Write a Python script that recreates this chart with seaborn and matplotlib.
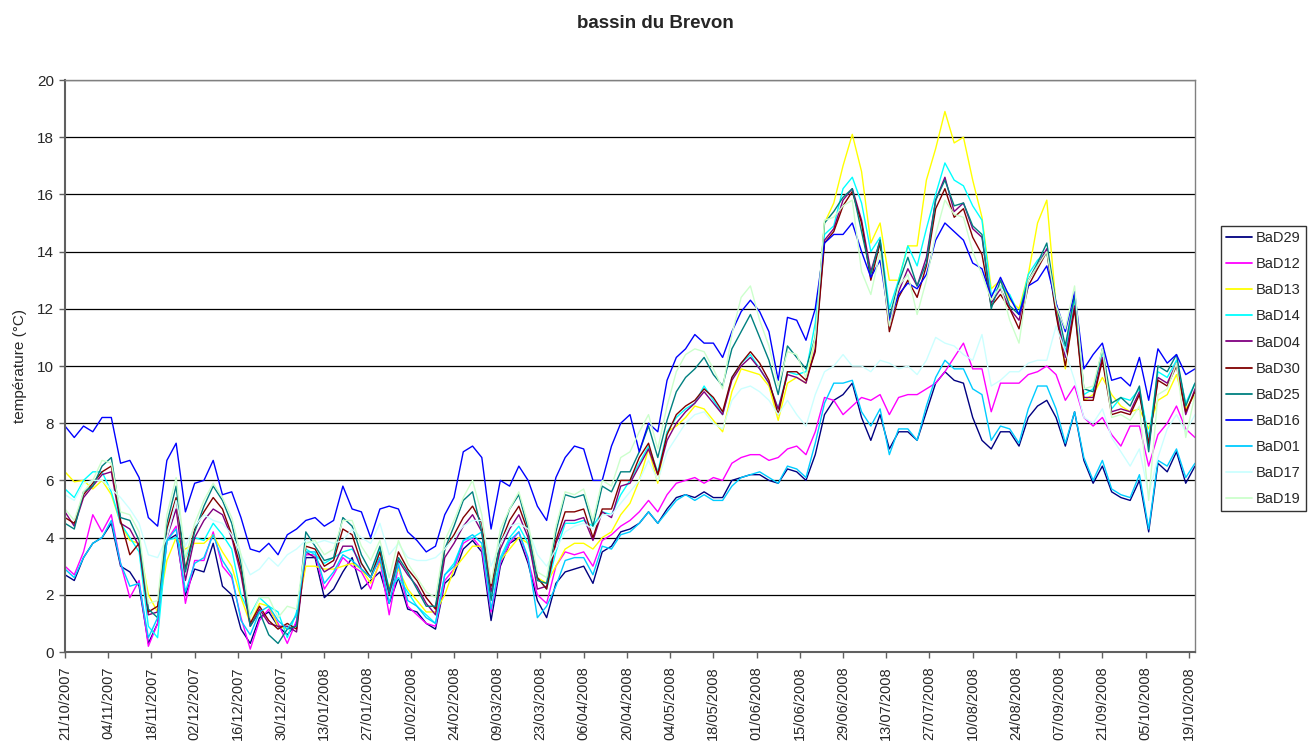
import matplotlib
matplotlib.use("Agg")
import matplotlib.pyplot as plt
import numpy as np
import pandas as pd
import seaborn as sns

# ---------------- data ----------------
start_date = "2007-10-21"
day_offsets = list(range(0, 367, 3))  # sampling days since 21/10/2007

stations = ["BaD29", "BaD12", "BaD13", "BaD14", "BaD04", "BaD30",
            "BaD25", "BaD16", "BaD01", "BaD17", "BaD19"]
colors = ["#000080", "#FF00FF", "#FFFF00", "#00FFFF", "#800080", "#800000",
          "#008080", "#0000FF", "#00CCFF", "#CCFFFF", "#CCFFCC"]

BaD29 = [2.7, 2.5, 3.3, 3.8, 4.0, 4.5, 3.0, 2.8, 2.3, 0.3, 1.0, 3.9, 4.1, 2.0, 2.9, 2.8,
         3.8, 2.3, 2.0, 0.8, 0.3, 1.2, 1.4, 0.9, 0.6, 1.0, 3.3, 3.3, 1.9, 2.2, 2.8,
         3.3, 2.2, 2.5, 2.8, 1.7, 2.6, 1.5, 1.4, 1.0, 0.8, 2.4, 2.7, 3.6, 3.9, 3.5,
         1.1, 3.0, 3.8, 4.0, 3.1, 1.8, 1.2, 2.4, 2.8, 2.9, 3.0, 2.4, 3.5, 3.7, 4.2,
         4.3, 4.5, 4.9, 4.5, 5.0, 5.4, 5.5, 5.4, 5.6, 5.4, 5.4, 6.0, 6.1, 6.2, 6.2, 6.0, 5.9, 6.4, 6.3, 6.0,
         6.9, 8.3, 8.8, 9.0, 9.4, 8.2, 7.4, 8.3, 7.1, 7.7, 7.7, 7.4, 8.4, 9.4, 9.8, 9.5, 9.4, 8.2, 7.4, 7.1,
         7.7, 7.7, 7.2, 8.2, 8.6, 8.8, 8.2, 7.2, 8.4,
         6.7, 5.9, 6.5, 5.6, 5.4, 5.3, 6.0, 4.2, 6.6, 6.3, 7.0, 5.9, 6.5]

BaD12 = [3.0, 2.7, 3.5, 4.8, 4.2, 4.8, 3.1, 1.9, 2.5, 0.2, 1.0, 3.9, 4.4, 1.7, 3.2, 3.2,
         4.2, 3.0, 2.6, 1.2, 0.1, 1.1, 1.5, 1.0, 0.3, 1.1, 3.4, 3.4, 2.2, 2.7, 3.3,
         3.0, 2.8, 2.2, 3.2, 1.3, 3.0, 1.6, 1.3, 1.0, 0.9, 2.5, 2.9, 3.8, 4.0, 3.6,
         1.4, 3.1, 3.8, 4.2, 3.2, 2.0, 1.7, 3.0, 3.5, 3.4, 3.5, 3.0, 3.9, 4.1, 4.4,
         4.6, 4.9, 5.3, 4.9, 5.5, 5.9, 6.0, 6.1, 5.9, 6.1, 6.0, 6.6, 6.8, 6.9, 6.9, 6.7, 6.8, 7.1, 7.2, 6.9,
         7.7, 8.9, 8.8, 8.3, 8.6, 8.9, 8.8, 9.0, 8.3, 8.9, 9.0, 9.0, 9.2, 9.4, 9.8, 10.3, 10.8, 9.9, 9.9, 8.4,
         9.4, 9.4, 9.4, 9.7, 9.8, 10.0, 9.7, 8.8, 9.3,
         8.2, 7.9, 8.2, 7.6, 7.2, 7.9, 7.9, 6.5, 7.6, 8.0, 8.6, 7.8, 7.5]

BaD13 = [6.3, 5.95, 6.0, 5.7, 6.0, 5.5, 4.5, 3.9, 3.8, 2.0, 1.4, 3.2, 4.0, 3.6, 3.8, 3.8,
         4.1, 3.5, 3.0, 1.9, 1.0, 1.7, 1.6, 0.9, 0.8, 1.3, 3.0, 3.0, 2.9, 2.9, 3.0,
         3.1, 2.9, 2.4, 3.1, 2.3, 2.9, 2.2, 1.8, 1.4, 1.4, 2.0, 2.9, 3.3, 3.7, 3.7,
         2.4, 3.2, 3.6, 4.0, 3.8, 2.6, 2.4, 3.0, 3.6, 3.8, 3.8, 3.6, 4.0, 4.2, 4.8,
         5.2, 6.0, 7.1, 5.9, 7.7, 7.9, 8.2, 8.6, 8.5, 8.1, 7.7, 9.1, 9.9, 9.8, 9.7, 9.3, 8.1, 9.4, 9.6, 9.4,
         11.0, 15.0, 15.7, 17.0, 18.1, 16.8, 14.3, 15.0, 13.0, 13.0, 14.2, 14.2, 16.5, 17.6, 18.9, 17.8, 18.0, 16.5, 15.2, 12.7,
         13.0, 12.3, 12.0, 13.2, 15.0, 15.8, 12.1, 9.9, 12.2,
         8.8, 9.0, 9.6, 9.0, 8.6, 8.4, 8.5, 7.8, 8.8, 9.0, 9.7, 8.5, 9.0]

BaD14 = [5.7, 5.4, 6.0, 6.3, 6.3, 5.6, 4.5, 4.0, 3.5, 0.9, 0.5, 3.9, 4.0, 3.3, 4.0, 3.9,
         4.5, 4.1, 3.6, 2.0, 1.3, 1.9, 1.6, 1.4, 0.5, 1.4, 3.6, 3.4, 3.1, 3.3, 3.5,
         3.6, 3.1, 2.6, 3.6, 2.2, 2.6, 2.1, 1.6, 1.3, 1.0, 2.7, 3.1, 3.9, 4.0, 4.2,
         1.9, 3.3, 4.0, 4.4, 3.8, 2.6, 2.2, 3.5, 4.5, 4.5, 4.6, 4.4, 4.9, 4.8, 5.5,
         6.0, 6.6, 7.2, 6.3, 7.7, 8.2, 8.5, 8.7, 9.3, 8.8, 8.3, 9.6, 10.1, 10.4, 9.9, 9.4, 8.5, 9.8, 9.7, 9.8,
         11.5, 14.6, 14.9, 16.2, 16.6, 15.7, 14.0, 14.5, 12.0, 13.0, 14.2, 13.5, 14.8, 16.0, 17.1, 16.5, 16.3, 15.6, 15.1, 12.5,
         12.8, 12.5, 11.8, 13.2, 13.7, 14.0, 11.8, 10.5, 12.4,
         9.0, 9.2, 10.5, 8.5, 8.9, 8.8, 9.2, 7.5, 9.8, 9.6, 10.2, 8.7, 9.4]

BaD04 = [4.9, 4.4, 5.4, 5.8, 6.2, 6.3, 4.5, 4.3, 3.7, 1.3, 1.4, 4.0, 5.0, 2.5, 4.0, 4.6,
         5.0, 4.8, 4.0, 2.7, 0.9, 1.5, 1.0, 0.9, 0.9, 0.7, 3.5, 3.3, 2.8, 3.0, 3.7,
         3.7, 2.9, 2.6, 3.3, 2.0, 3.2, 2.7, 2.3, 1.7, 1.3, 3.3, 3.8, 4.4, 4.8, 4.2,
         2.1, 3.6, 4.3, 4.8, 4.0, 2.2, 2.3, 3.8, 4.6, 4.6, 4.7, 3.9, 4.9, 4.7, 5.8,
         5.9, 6.5, 7.1, 6.2, 7.4, 8.0, 8.4, 8.7, 9.1, 8.7, 8.3, 9.5, 10.0, 10.3, 9.9, 9.4, 8.5, 9.7, 9.6, 9.4,
         10.6, 14.4, 14.8, 15.8, 16.2, 15.1, 13.3, 14.4, 11.4, 12.6, 13.4, 12.8, 13.8, 15.8, 16.6, 15.4, 15.7, 14.8, 14.5, 12.2,
         12.7, 12.0, 11.6, 13.0, 13.5, 14.1, 11.9, 10.3, 12.1,
         8.9, 8.9, 10.3, 8.4, 8.5, 8.4, 9.1, 7.2, 9.6, 9.4, 10.1, 8.3, 9.2]

BaD30 = [4.7, 4.5, 5.5, 5.9, 6.3, 6.5, 4.6, 3.4, 3.8, 1.4, 1.6, 4.3, 5.4, 2.9, 4.3, 4.9,
         5.4, 5.0, 4.1, 2.9, 1.0, 1.6, 1.1, 0.8, 1.0, 0.8, 3.7, 3.6, 3.0, 3.2, 4.3,
         4.1, 3.1, 2.6, 3.5, 2.1, 3.5, 2.9, 2.5, 1.9, 1.5, 3.6, 4.1, 4.7, 5.1, 4.5,
         2.3, 3.8, 4.6, 5.1, 4.2, 2.6, 2.2, 3.9, 4.9, 4.9, 5.0, 4.0, 5.0, 5.0, 6.0,
         6.0, 6.8, 7.3, 6.2, 7.6, 8.3, 8.6, 8.8, 9.2, 8.9, 8.4, 9.6, 10.1, 10.5, 10.1, 9.5, 8.3, 9.8, 9.8, 9.5,
         10.5, 14.3, 14.7, 15.6, 16.1, 15.0, 13.0, 14.3, 11.2, 12.4, 13.0, 12.4, 13.5, 15.5, 16.2, 15.2, 15.5, 14.5, 13.9, 12.1,
         12.5, 12.0, 11.3, 12.8, 13.4, 14.0, 11.8, 10.0, 12.0,
         8.8, 8.8, 10.2, 8.3, 8.4, 8.3, 9.0, 7.3, 9.5, 9.3, 10.0, 8.4, 9.1]

BaD25 = [4.5, 4.3, 5.6, 5.8, 6.5, 6.8, 4.7, 4.6, 3.9, 1.5, 1.2, 4.5, 5.8, 2.8, 4.2, 5.1,
         5.8, 5.3, 4.5, 3.1, 0.9, 1.4, 0.6, 0.3, 0.8, 0.9, 4.2, 3.7, 3.2, 3.3, 4.7,
         4.4, 3.4, 2.8, 3.7, 2.1, 3.3, 2.8, 2.2, 1.6, 1.6, 3.6, 4.4, 5.3, 5.6, 4.2,
         1.8, 4.0, 5.0, 5.5, 4.3, 2.5, 2.4, 4.2, 5.5, 5.4, 5.5, 4.4, 5.8, 5.6, 6.3,
         6.3, 7.0, 7.9, 6.8, 8.1, 9.1, 9.6, 9.9, 10.3, 9.7, 9.3, 10.6, 11.2, 11.8, 11.0, 10.2, 9.0, 10.7, 10.3, 9.9,
         11.0, 15.0, 15.4, 15.9, 16.2, 14.7, 13.2, 14.4, 11.7, 12.9, 13.8, 12.8, 13.6, 15.8, 16.5, 15.6, 15.7, 14.9, 14.6, 12.0,
         13.0, 12.1, 11.8, 13.0, 13.6, 14.3, 12.2, 10.7, 12.5,
         9.2, 9.1, 10.6, 8.7, 8.9, 8.6, 9.3, 7.0, 10.0, 9.8, 10.4, 8.6, 9.4]

BaD16 = [7.9, 7.5, 7.9, 7.7, 8.2, 8.2, 6.6, 6.7, 6.1, 4.7, 4.4, 6.7, 7.3, 4.9, 5.9, 6.0,
         6.7, 5.5, 5.6, 4.7, 3.6, 3.5, 3.8, 3.4, 4.1, 4.3, 4.6, 4.7, 4.4, 4.6, 5.8,
         5.0, 4.9, 4.0, 5.0, 5.1, 5.0, 4.2, 3.9, 3.5, 3.7, 4.8, 5.4, 7.0, 7.2, 6.8,
         4.3, 6.0, 5.8, 6.5, 6.0, 5.1, 4.6, 6.1, 6.8, 7.2, 7.1, 6.0, 6.0, 7.2, 8.0,
         8.3, 7.0, 8.0, 7.7, 9.5, 10.3, 10.6, 11.1, 10.8, 10.8, 10.3, 11.2, 11.9, 12.3, 11.9, 11.2, 9.5, 11.7, 11.6, 10.9,
         12.0, 14.3, 14.6, 14.6, 15.0, 14.0, 13.1, 13.7, 11.6, 12.5, 12.9, 12.7, 13.2, 14.4, 15.0, 14.7, 14.4, 13.6, 13.4, 12.4,
         13.1, 12.4, 11.8, 12.8, 13.0, 13.5, 12.2, 11.2, 12.6,
         9.9, 10.4, 10.8, 9.5, 9.6, 9.3, 10.3, 8.8, 10.6, 10.1, 10.4, 9.7, 9.9]

BaD01 = [2.9, 2.6, 3.3, 3.8, 4.0, 4.6, 3.1, 2.3, 2.4, 0.5, 1.2, 3.9, 4.3, 2.1, 3.1, 3.3,
         4.1, 3.2, 2.7, 1.1, 0.6, 1.4, 1.6, 1.1, 0.8, 1.3, 3.5, 3.5, 2.4, 2.8, 3.4,
         3.2, 2.9, 2.6, 3.3, 1.7, 3.1, 1.8, 1.6, 1.2, 1.0, 2.7, 3.0, 3.9, 4.1, 3.8,
         1.5, 3.2, 3.9, 4.2, 3.3, 1.2, 1.6, 2.3, 3.2, 3.3, 3.3, 2.7, 3.7, 3.6, 4.1,
         4.2, 4.5, 4.9, 4.5, 4.9, 5.3, 5.5, 5.3, 5.5, 5.3, 5.3, 5.8, 6.1, 6.2, 6.3, 6.1, 5.9, 6.5, 6.4, 6.1,
         7.3, 8.7, 9.4, 9.4, 9.5, 8.4, 7.9, 8.5, 6.9, 7.8, 7.8, 7.4, 8.6, 9.6, 10.2, 9.9, 9.9, 9.2, 9.0, 7.4,
         7.9, 7.8, 7.3, 8.5, 9.3, 9.3, 8.5, 7.3, 8.4,
         6.8, 6.0, 6.7, 5.7, 5.5, 5.4, 6.2, 4.3, 6.7, 6.5, 7.1, 6.1, 6.6]

BaD17 = [5.5, 5.3, 5.9, 6.0, 6.0, 5.7, 5.4, 5.0, 4.5, 3.4, 3.3, 4.0, 5.3, 3.7, 4.4, 4.8,
         4.6, 4.5, 4.1, 3.4, 2.7, 2.9, 3.3, 3.0, 3.4, 3.6, 3.9, 3.8, 3.9, 3.8, 3.9,
         4.3, 4.0, 3.8, 4.5, 3.4, 3.8, 3.3, 3.2, 3.2, 3.3, 3.6, 4.0, 4.4, 4.6, 4.6,
         3.0, 3.8, 4.4, 4.5, 4.3, 3.4, 3.0, 3.6, 4.2, 4.4, 4.5, 4.3, 4.8, 4.8, 5.2,
         5.6, 6.0, 6.7, 6.0, 7.0, 7.5, 8.0, 8.3, 8.4, 8.0, 7.8, 8.8, 9.2, 9.3, 9.1, 8.8, 8.3, 8.8, 8.3, 7.9,
         9.0, 9.8, 10.0, 10.4, 10.0, 10.0, 9.8, 10.2, 10.1, 9.9, 10.0, 9.7, 10.2, 11.0, 10.8, 10.7, 10.4, 10.2, 11.1, 9.3,
         9.5, 9.8, 9.8, 10.1, 10.2, 10.2, 11.4, 10.5, 9.5,
         8.2, 8.0, 8.5, 7.5, 7.0, 6.5, 7.1, 5.5, 6.8, 7.8, 8.3, 7.7, 8.3]

BaD19 = [5.0, 4.6, 5.6, 6.0, 6.7, 6.6, 4.9, 4.8, 4.2, 1.7, 1.8, 4.8, 6.1, 3.3, 4.5, 5.3,
         5.9, 5.4, 4.7, 3.4, 1.2, 1.9, 1.9, 1.2, 1.6, 1.5, 3.8, 3.9, 3.4, 3.6, 4.6,
         4.6, 3.7, 3.2, 3.9, 2.6, 3.9, 3.1, 2.6, 2.1, 1.9, 3.9, 4.6, 5.4, 6.0, 4.8,
         2.4, 4.3, 5.0, 5.6, 4.5, 2.8, 2.6, 4.4, 5.6, 5.5, 5.7, 4.6, 6.0, 5.8, 6.8,
         7.0, 7.7, 8.3, 7.1, 8.6, 9.8, 10.4, 10.6, 10.5, 9.9, 9.2, 11.1, 12.4, 12.8, 11.6, 10.7, 9.3, 10.5, 10.4, 9.6,
         11.0, 15.1, 15.2, 15.6, 15.8, 13.3, 12.5, 14.0, 11.4, 12.8, 13.2, 11.8, 13.0, 14.6, 15.8, 15.3, 15.2, 14.0, 13.2, 12.3,
         12.8, 11.6, 10.8, 13.0, 13.5, 14.0, 12.1, 11.3, 12.8,
         9.2, 9.3, 10.6, 8.2, 8.3, 8.1, 8.6, 5.3, 9.0, 9.2, 10.1, 7.5, 9.0]

tick_labels = ["21/10/2007", "04/11/2007", "18/11/2007", "02/12/2007", "16/12/2007",
               "30/12/2007", "13/01/2008", "27/01/2008", "10/02/2008", "24/02/2008",
               "09/03/2008", "23/03/2008", "06/04/2008", "20/04/2008", "04/05/2008",
               "18/05/2008", "01/06/2008", "15/06/2008", "29/06/2008", "13/07/2008",
               "27/07/2008", "10/08/2008", "24/08/2008", "07/09/2008", "21/09/2008",
               "05/10/2008", "19/10/2008"]

title = "bassin du Brevon"
ylabel = "température (°C)"

# ---------------- build table ----------------
series = [BaD29, BaD12, BaD13, BaD14, BaD04, BaD30, BaD25, BaD16, BaD01, BaD17, BaD19]
dates = pd.Timestamp(start_date) + pd.to_timedelta(day_offsets, unit="D")
frames = []
for name, vals in zip(stations, series):
    assert len(vals) == len(day_offsets), (name, len(vals))
    frames.append(pd.DataFrame({"date": dates, "temp": vals, "station": name}))
df = pd.concat(frames, ignore_index=True)

# ---------------- plot ----------------
sns.set_theme(style="white")
plt.rcParams["font.family"] = ["Liberation Sans", "DejaVu Sans"]

W, H = 1311, 743
fig = plt.figure(figsize=(W / 100, H / 100), dpi=100)
ax = fig.add_axes([65 / W, 91 / H, 1130 / W, 572 / H])

sns.lineplot(data=df, x="date", y="temp", hue="station", hue_order=stations,
             palette=dict(zip(stations, colors)), linewidth=1.0,
             estimator=None, sort=False, ax=ax)

ax.set_ylim(0, 20)
ax.set_yticks(np.arange(0, 21, 2))
ax.set_xlim(dates[0], dates[-1])
tick_dates = pd.to_datetime(tick_labels, format="%d/%m/%Y")
ax.set_xticks(tick_dates)
ax.set_xticklabels(tick_labels, rotation=90, fontsize=10.5)
ax.tick_params(axis="y", labelsize=11, length=4.5, width=1.0, color="#606060",
               left=True, pad=3.5)
ax.tick_params(axis="x", length=4.5, width=1.0, color="#606060", bottom=True, pad=6)

ax.yaxis.grid(True, color="black", linewidth=0.9)
ax.xaxis.grid(False)
ax.set_axisbelow(True)
for side in ["left", "bottom"]:
    ax.spines[side].set_color("#606060")
    ax.spines[side].set_linewidth(1.5)
for side in ["right", "top"]:
    ax.spines[side].set_color("#808080")
    ax.spines[side].set_linewidth(1.0)

ax.set_xlabel("")
ax.set_ylabel(ylabel, fontsize=11, labelpad=7)
fig.text(0.5, 1 - 23 / H, title, ha="center", va="center", fontsize=13.5,
         fontweight="bold")

handles, labels = ax.get_legend_handles_labels()
leg = ax.legend(handles, labels, loc="upper left",
                bbox_to_anchor=(1221 / W, 1 - 226 / H), bbox_transform=fig.transFigure,
                frameon=True, fancybox=False, edgecolor="black", fontsize=10.5,
                handlelength=1.8, labelspacing=0.83, borderpad=0.35,
                handletextpad=0.25, borderaxespad=0.0)
leg.get_frame().set_linewidth(1.0)
for line in leg.get_lines():
    line.set_linewidth(1.3)

fig.savefig("out.png", dpi=100)
